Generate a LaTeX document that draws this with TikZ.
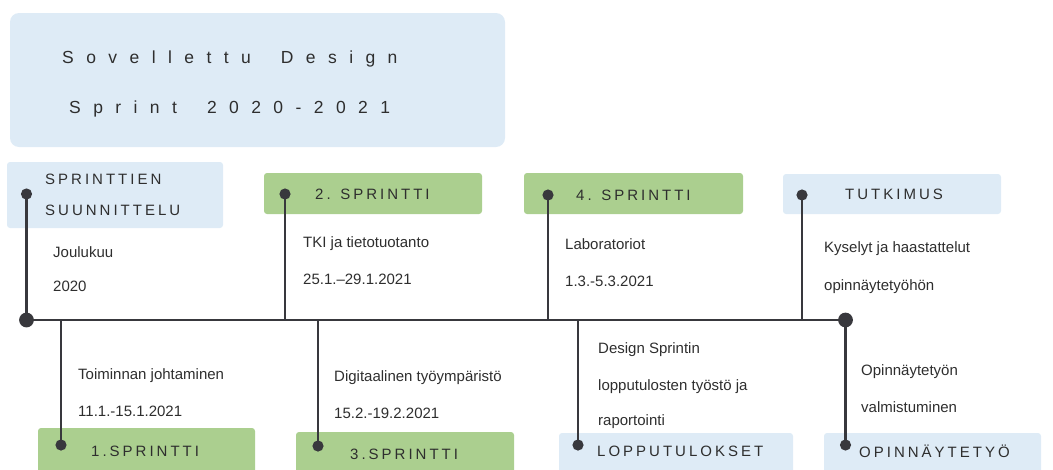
\documentclass[tikz,border=0pt]{standalone}
\usepackage{fontspec}
\setmainfont{Liberation Sans}
\definecolor{boxblue}{HTML}{DEEBF6}
\definecolor{boxgreen}{HTML}{ABCF8F}
\definecolor{ink}{HTML}{2E2E2E}
\definecolor{rule}{HTML}{38383D}
\newcommand{\wordgap}{\hspace*{30pt}}
\begin{document}
\begin{tikzpicture}[x=1pt,y=-1pt,
  panel/.style={draw=none, rounded corners=3pt, anchor=north west, inner sep=0pt, outer sep=0pt},
  bluepanel/.style={panel, fill=boxblue},
  greenpanel/.style={panel, fill=boxgreen},
  headtxt/.style={anchor=base west, inner sep=0pt, text=ink,
    font=\fontsize{15}{18}\selectfont\addfontfeature{LetterSpace=20}},
  titletxt/.style={anchor=base west, inner sep=0pt, text=ink,
    font=\fontsize{17.5}{20}\selectfont\addfontfeature{LetterSpace=71}},
  bodytxt/.style={anchor=base west, inner sep=0pt, text=ink,
    font=\fontsize{15}{18}\selectfont},
  pin/.style={draw=rule, line width=2.9pt},
  dot/.style={fill=rule},
]
\useasboundingbox (0,0) rectangle (1053,469);

% title panel
\node[panel, fill=boxblue, rounded corners=9pt, minimum width=495pt, minimum height=134pt] (title) at (10,13) {};
\node[titletxt] (title1) at (62,63) {Sovellettu\wordgap{}Design};
\node[titletxt] (title2) at (69,113) {Sprint\wordgap{}2020-2021};

% phase panels above the timeline
\node[bluepanel, minimum width=216pt, minimum height=66pt] (plan) at (7,162) {};
\node[greenpanel, minimum width=218pt, minimum height=41pt] (s2) at (264,173) {};
\node[greenpanel, minimum width=219pt, minimum height=41pt] (s4) at (524,173) {};
\node[bluepanel, minimum width=218pt, minimum height=40pt] (res) at (783,174) {};

% phase panels below the timeline
\node[greenpanel, minimum width=217pt, minimum height=48pt] (s1) at (38,428) {};
\node[greenpanel, minimum width=218pt, minimum height=44pt] (s3) at (296,432) {};
\node[bluepanel, minimum width=234pt, minimum height=43pt] (out) at (559,433) {};
\node[bluepanel, minimum width=217pt, minimum height=43pt] (thesis) at (824,433) {};

% panel headings
\node[headtxt] (plan1) at (45,184) {SPRINTTIEN};
\node[headtxt] (plan2) at (45,215) {SUUNNITTELU};
\node[headtxt] (s2t) at (315,199) {2. SPRINTTI};
\node[headtxt] (s4t) at (576,200) {4. SPRINTTI};
\node[headtxt] (rest) at (845,199) {TUTKIMUS};
\node[headtxt] (s1t) at (91,456) {1.SPRINTTI};
\node[headtxt] (s3t) at (350,459) {3.SPRINTTI};
\node[headtxt] (outt) at (597,456) {LOPPUTULOKSET};
\node[headtxt] (thesist) at (859,457) {OPINNÄYTETYÖ};

% descriptions
\node[bodytxt] (d0a) at (53,257) {Joulukuu};
\node[bodytxt] (d0b) at (53,291) {2020};
\node[bodytxt] (d2a) at (303,247) {TKI ja tietotuotanto};
\node[bodytxt] (d2b) at (303,284) {25.1.–29.1.2021};
\node[bodytxt] (d4a) at (565,249) {Laboratoriot};
\node[bodytxt] (d4b) at (565,286) {1.3.-5.3.2021};
\node[bodytxt] (d6a) at (824,252) {Kyselyt ja haastattelut};
\node[bodytxt] (d6b) at (824,290) {opinnäytetyöhön};
\node[bodytxt] (d1a) at (78,379) {Toiminnan johtaminen};
\node[bodytxt] (d1b) at (78,416) {11.1.-15.1.2021};
\node[bodytxt] (d3a) at (334,381) {Digitaalinen työympäristö};
\node[bodytxt] (d3b) at (334,418) {15.2.-19.2.2021};
\node[bodytxt] (d5a) at (598,353) {Design Sprintin};
\node[bodytxt] (d5b) at (598,390) {lopputulosten työstö ja};
\node[bodytxt] (d5c) at (598,425) {raportointi};
\node[bodytxt] (d7a) at (861,375) {Opinnäytetyön};
\node[bodytxt] (d7b) at (861,412) {valmistuminen};

% timeline and its junctions
\coordinate (t0) at (26.5,320);
\coordinate (t1) at (61,320);
\coordinate (t2) at (285,320);
\coordinate (t3) at (318,320);
\coordinate (t4) at (548,320);
\coordinate (t5) at (578,320);
\coordinate (t6) at (802,320);
\coordinate (t7) at (845.5,320);

% pin heads
\coordinate (p0) at (26.5,194);
\coordinate (p1) at (61,445);
\coordinate (p2) at (285,194);
\coordinate (p3) at (318,446);
\coordinate (p4) at (548,195);
\coordinate (p5) at (578,445);
\coordinate (p6) at (802,195);
\coordinate (p7) at (845.5,445);

\draw[pin] (t0) -- (t7);
\foreach \i in {0,...,7} {
  \draw[pin] (p\i) -- (t\i);
  \fill[dot] (p\i) circle (5.6pt);
}
\fill[dot] (t0) circle (7.4pt);
\fill[dot] (t7) circle (7.4pt);
\end{tikzpicture}
\end{document}
